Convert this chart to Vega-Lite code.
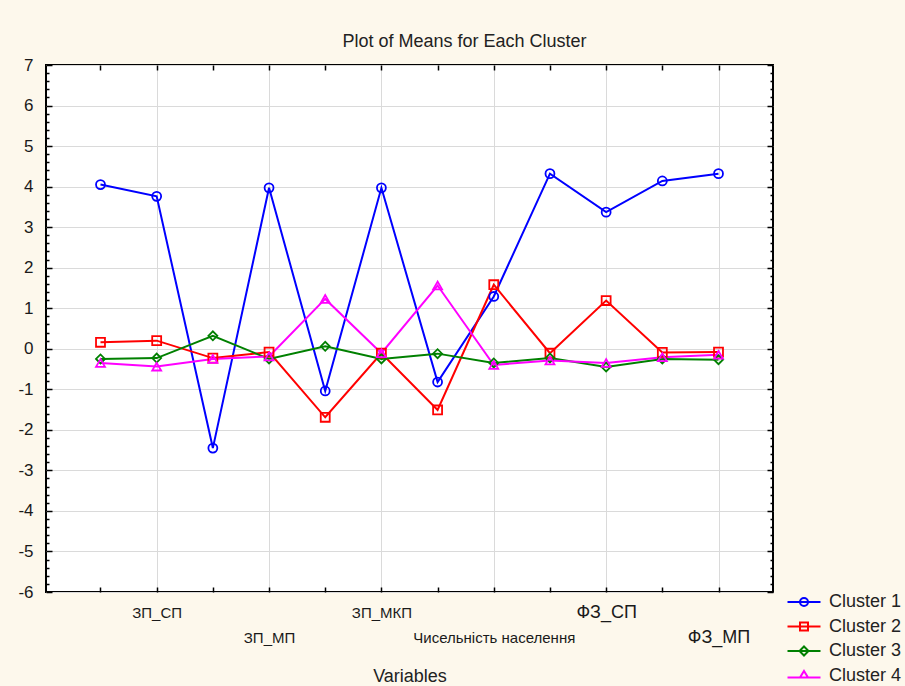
{
  "$schema": "https://vega.github.io/schema/vega-lite/v6.json",
  "width": 727,
  "height": 527,
  "autosize": {"type": "none"},
  "padding": {"left": 46, "top": 65, "right": 132, "bottom": 94},
  "background": "#fdf8ec",
  "config": {
    "view": {"stroke": "#000", "strokeWidth": 2, "fill": "white"},
    "font": "Liberation Sans"
  },
  "title": {
    "text": "Plot of Means for Each Cluster",
    "font": "Liberation Sans",
    "fontSize": 18,
    "fontWeight": "normal",
    "color": "#222",
    "anchor": "middle",
    "frame": "group",
    "dx": 55,
    "offset": -9,
    "baseline": "alphabetic"
  },
  "data": {
    "values": [
      {"cluster": "Cluster 1", "variable": "ЗП_ВП", "mean": 4.05},
      {"cluster": "Cluster 1", "variable": "ЗП_СП", "mean": 3.76},
      {"cluster": "Cluster 1", "variable": "КП_СП", "mean": -2.45},
      {"cluster": "Cluster 1", "variable": "ЗП_МП", "mean": 3.97},
      {"cluster": "Cluster 1", "variable": "КП_МП", "mean": -1.04},
      {"cluster": "Cluster 1", "variable": "ЗП_МКП", "mean": 3.97},
      {"cluster": "Cluster 1", "variable": "КП_МКП", "mean": -0.82},
      {"cluster": "Cluster 1", "variable": "Чисельність населення", "mean": 1.29},
      {"cluster": "Cluster 1", "variable": "ФЗ_ВП", "mean": 4.32},
      {"cluster": "Cluster 1", "variable": "ФЗ_СП", "mean": 3.37},
      {"cluster": "Cluster 1", "variable": "ФЗ_МСП", "mean": 4.14},
      {"cluster": "Cluster 1", "variable": "ФЗ_МП", "mean": 4.32},
      {"cluster": "Cluster 2", "variable": "ЗП_ВП", "mean": 0.16},
      {"cluster": "Cluster 2", "variable": "ЗП_СП", "mean": 0.2},
      {"cluster": "Cluster 2", "variable": "КП_СП", "mean": -0.23},
      {"cluster": "Cluster 2", "variable": "ЗП_МП", "mean": -0.08},
      {"cluster": "Cluster 2", "variable": "КП_МП", "mean": -1.69},
      {"cluster": "Cluster 2", "variable": "ЗП_МКП", "mean": -0.11},
      {"cluster": "Cluster 2", "variable": "КП_МКП", "mean": -1.51},
      {"cluster": "Cluster 2", "variable": "Чисельність населення", "mean": 1.58},
      {"cluster": "Cluster 2", "variable": "ФЗ_ВП", "mean": -0.11},
      {"cluster": "Cluster 2", "variable": "ФЗ_СП", "mean": 1.19},
      {"cluster": "Cluster 2", "variable": "ФЗ_МСП", "mean": -0.09},
      {"cluster": "Cluster 2", "variable": "ФЗ_МП", "mean": -0.08},
      {"cluster": "Cluster 3", "variable": "ЗП_ВП", "mean": -0.25},
      {"cluster": "Cluster 3", "variable": "ЗП_СП", "mean": -0.23},
      {"cluster": "Cluster 3", "variable": "КП_СП", "mean": 0.32},
      {"cluster": "Cluster 3", "variable": "ЗП_МП", "mean": -0.25},
      {"cluster": "Cluster 3", "variable": "КП_МП", "mean": 0.06},
      {"cluster": "Cluster 3", "variable": "ЗП_МКП", "mean": -0.25},
      {"cluster": "Cluster 3", "variable": "КП_МКП", "mean": -0.12},
      {"cluster": "Cluster 3", "variable": "Чисельність населення", "mean": -0.35},
      {"cluster": "Cluster 3", "variable": "ФЗ_ВП", "mean": -0.23},
      {"cluster": "Cluster 3", "variable": "ФЗ_СП", "mean": -0.45},
      {"cluster": "Cluster 3", "variable": "ФЗ_МСП", "mean": -0.25},
      {"cluster": "Cluster 3", "variable": "ФЗ_МП", "mean": -0.27},
      {"cluster": "Cluster 4", "variable": "ЗП_ВП", "mean": -0.35},
      {"cluster": "Cluster 4", "variable": "ЗП_СП", "mean": -0.44},
      {"cluster": "Cluster 4", "variable": "КП_СП", "mean": -0.25},
      {"cluster": "Cluster 4", "variable": "ЗП_МП", "mean": -0.19},
      {"cluster": "Cluster 4", "variable": "КП_МП", "mean": 1.23},
      {"cluster": "Cluster 4", "variable": "ЗП_МКП", "mean": -0.11},
      {"cluster": "Cluster 4", "variable": "КП_МКП", "mean": 1.56},
      {"cluster": "Cluster 4", "variable": "Чисельність населення", "mean": -0.4},
      {"cluster": "Cluster 4", "variable": "ФЗ_ВП", "mean": -0.29},
      {"cluster": "Cluster 4", "variable": "ФЗ_СП", "mean": -0.35},
      {"cluster": "Cluster 4", "variable": "ФЗ_МСП", "mean": -0.21},
      {"cluster": "Cluster 4", "variable": "ФЗ_МП", "mean": -0.15}
    ]
  },
  "layer": [
    {
      "mark": {"type": "line", "strokeWidth": 2},
      "encoding": {
        "x": {
          "field": "variable", "type": "nominal", "sort": null,
          "scale": {"type": "point", "padding": 0.97},
          "axis": {
            "orient": "bottom",
            "title": "Variables",
            "titleFont": "Liberation Sans",
            "titleFontSize": 18,
            "titleFontWeight": "normal",
            "titleColor": "#222",
            "titleBaseline": "middle",
            "titleY": 84,
            "labelAngle": 0,
            "labelOverlap": false,
            "labelFont": "Liberation Sans",
            "labelColor": "#1a1a1a",
            "labelBaseline": "middle",
            "labelFontSize": {"condition": {"test": "indexof(datum.value, 'ФЗ') === 0", "value": 18}, "value": 15},
            "labelPadding": {"condition": {"test": "indexof(['ЗП_МП','Чисельність населення','ФЗ_МП'], datum.value) >= 0", "value": 45}, "value": 20},
            "labelExpr": "indexof(['ЗП_СП','ЗП_МП','ЗП_МКП','Чисельність населення','ФЗ_СП','ФЗ_МП'], datum.value) >= 0 ? datum.value : ''",
            "ticks": false,
            "domain": false,
            "grid": true,
            "gridColor": "#dadada",
            "gridOpacity": {"condition": {"test": "indexof(['ЗП_СП','ЗП_МП','ЗП_МКП','Чисельність населення','ФЗ_СП','ФЗ_МП'], datum.value) >= 0", "value": 1}, "value": 0}
          }
        },
        "y": {
          "field": "mean", "type": "quantitative",
          "scale": {"domain": [-6, 7], "nice": false, "zero": false},
          "axis": {
            "orient": "left",
            "title": null,
            "values": [-6, -5, -4, -3, -2, -1, 0, 1, 2, 3, 4, 5, 6, 7],
            "labelExpr": "datum.value + ''",
            "labelFont": "Liberation Sans",
            "labelFontSize": 17,
            "labelColor": "#1a1a1a",
            "labelPadding": 13,
            "ticks": false,
            "domain": false,
            "grid": true,
            "gridColor": "#dadada"
          }
        },
        "color": {
          "field": "cluster", "type": "nominal",
          "scale": {"range": ["#0000ff", "#ff0000", "#008000", "#ff00ff"]},
          "legend": {
            "orient": "none",
            "legendX": 749,
            "legendY": 528,
            "title": null,
            "padding": 0,
            "symbolSize": 100,
            "symbolStrokeWidth": 2,
            "labelFont": "Liberation Sans",
            "labelFontSize": 18,
            "labelColor": "#222",
            "labelOffset": 16,
            "rowPadding": 6.5,
            "encode": {
              "symbols": {
                "update": {
                  "fill": {"value": "transparent"},
                  "shape": {"signal": "datum.value === 'Cluster 1' ? 'M-3.3,0H3.3M-0.8,0A0.8,0.8,0,1,0,0.8,0A0.8,0.8,0,1,0,-0.8,0' : datum.value === 'Cluster 2' ? 'M-3.3,0H3.3M-0.8,-0.8H0.8V0.8H-0.8Z' : datum.value === 'Cluster 3' ? 'M-3.3,0H3.3M0,-0.9L0.9,0L0,0.9L-0.9,0Z' : 'M-3.3,0.4H3.3M0,-0.9L0.8,0.4H-0.8Z'"}
                }
              }
            }
          }
        }
      }
    },
    {
      "mark": {"type": "point", "filled": false, "size": 80, "strokeWidth": 1.8, "opacity": 1},
      "encoding": {
        "x": {"field": "variable", "type": "nominal", "sort": null, "scale": {"type": "point", "padding": 0.97}, "axis": null},
        "y": {"field": "mean", "type": "quantitative", "scale": {"domain": [-6, 7], "nice": false, "zero": false}, "axis": null},
        "color": {"field": "cluster", "type": "nominal"},
        "shape": {
          "field": "cluster", "type": "nominal",
          "scale": {"range": ["circle", "square", "diamond", "triangle-up"]},
          "legend": null
        }
      }
    },
    {
      "mark": {"type": "point", "opacity": 0},
      "encoding": {
        "x": {
          "field": "variable", "type": "nominal", "sort": null,
          "scale": {"type": "point", "padding": 0.97},
          "axis": {"orient": "top", "title": null, "labels": false, "domain": false, "grid": false, "ticks": true, "tickSize": -5, "tickWidth": 1.5, "tickColor": "#000"}
        },
        "y": {
          "field": "mean", "type": "quantitative",
          "scale": {"domain": [-6, 7], "nice": false, "zero": false},
          "axis": {
            "orient": "left", "title": null, "labels": false, "domain": false, "grid": false,
            "tickCount": 65, "tickColor": "#000", "tickWidth": 1.5,
            "tickSize": {"condition": {"test": "datum.value % 1 === 0", "value": -6}, "value": -3}
          }
        }
      }
    },
    {
      "mark": {"type": "point", "opacity": 0},
      "encoding": {
        "x": {
          "field": "variable", "type": "nominal", "sort": null,
          "scale": {"type": "point", "padding": 0.97},
          "axis": {"orient": "bottom", "title": null, "labels": false, "domain": false, "grid": false, "ticks": true, "tickSize": -5, "tickWidth": 1.5, "tickColor": "#000"}
        },
        "y": {
          "field": "mean", "type": "quantitative",
          "scale": {"domain": [-6, 7], "nice": false, "zero": false},
          "axis": {
            "orient": "right", "title": null, "labels": false, "domain": false, "grid": false,
            "tickCount": 65, "tickColor": "#000", "tickWidth": 1.5,
            "tickSize": {"condition": {"test": "datum.value % 1 === 0", "value": -6}, "value": -3}
          }
        }
      }
    }
  ],
  "resolve": {
    "scale": {"x": "independent", "y": "independent", "color": "shared"},
    "axis": {"x": "independent", "y": "independent"}
  }
}
